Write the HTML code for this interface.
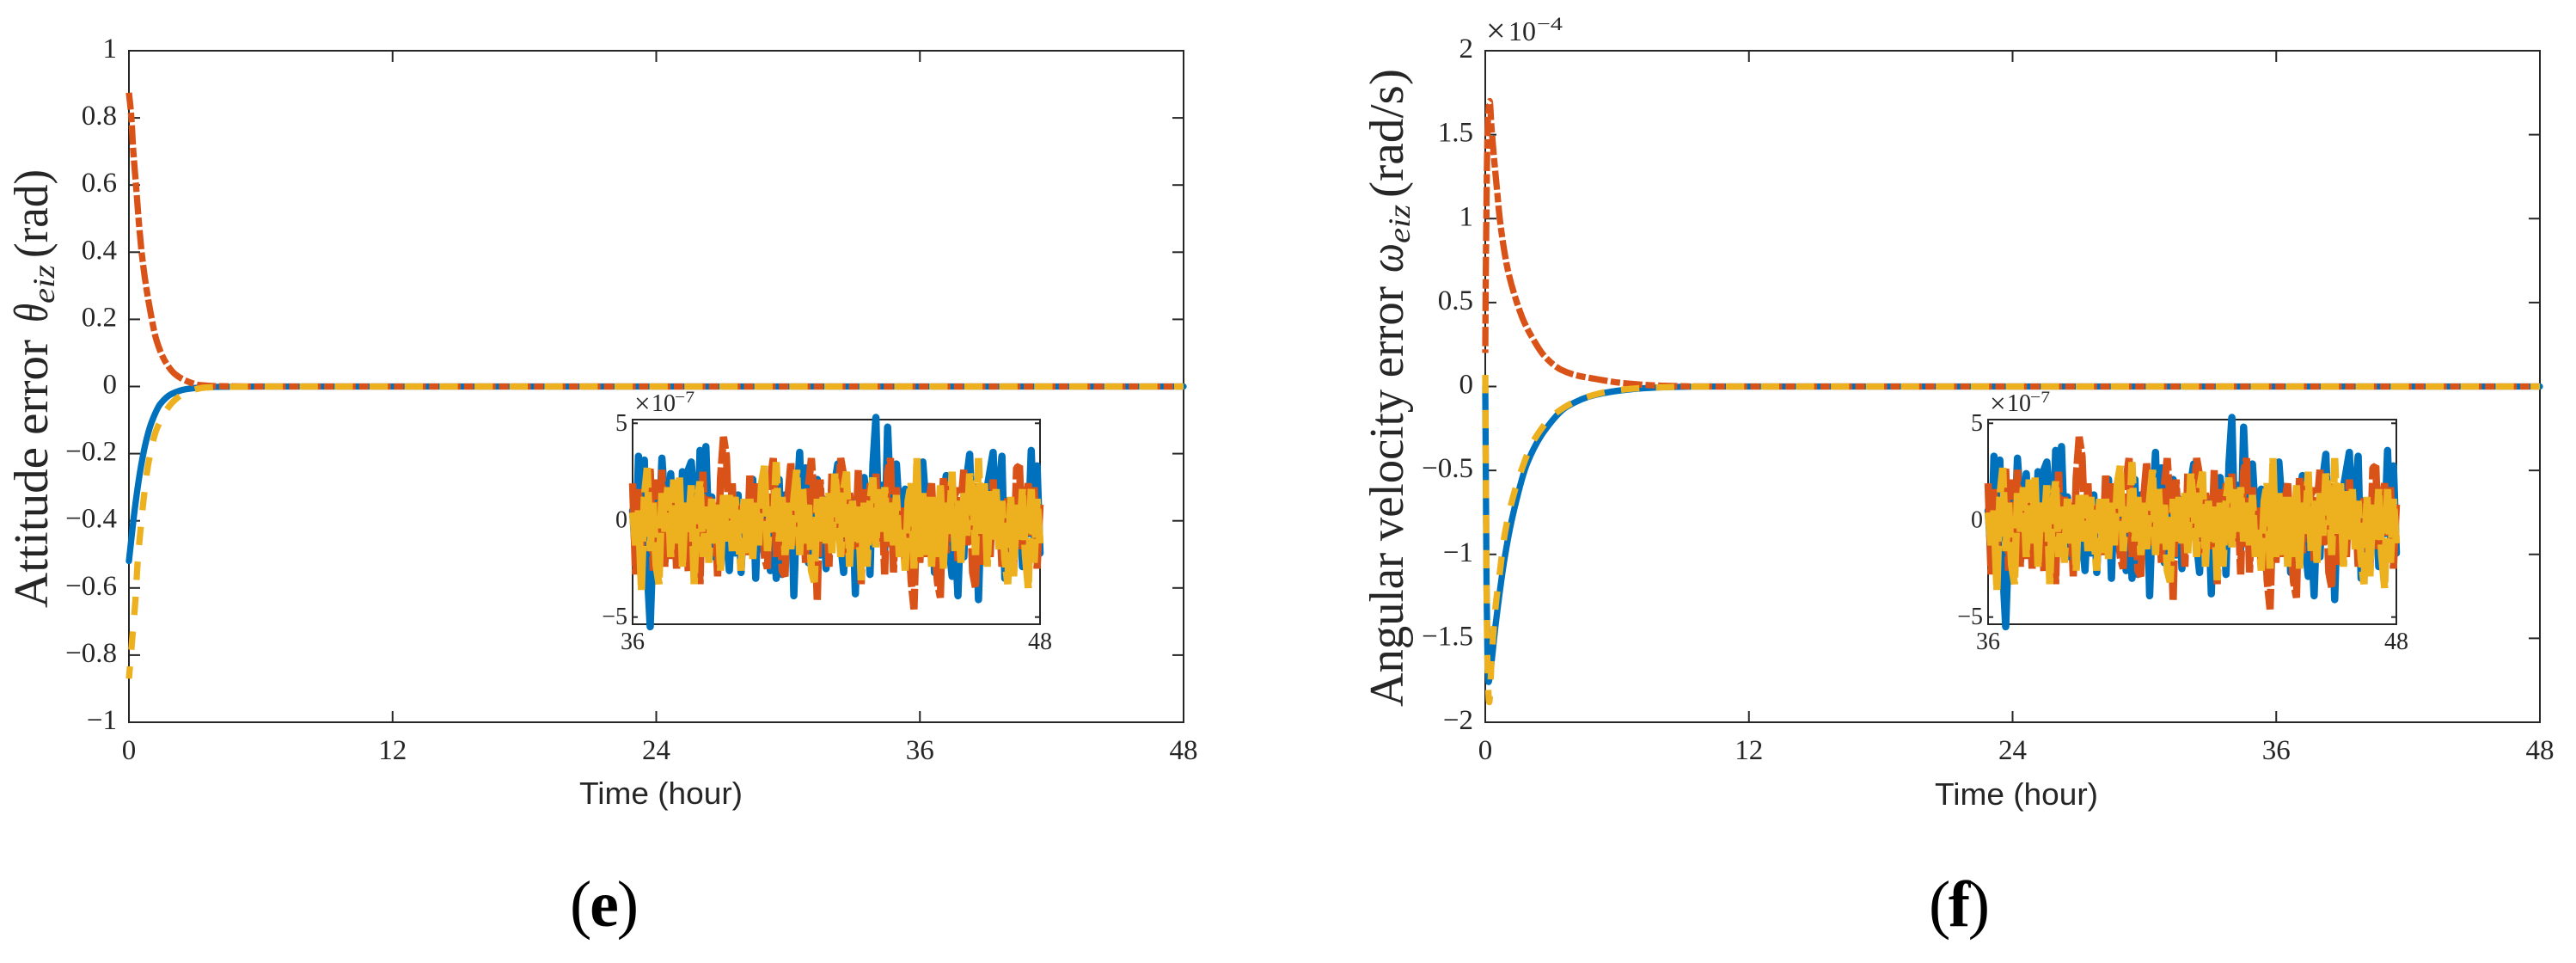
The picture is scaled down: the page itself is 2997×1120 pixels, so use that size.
<!DOCTYPE html>
<html lang="en">
<head>
<meta charset="utf-8">
<title>Attitude and angular velocity error charts</title>
<style>
html,body{margin:0;padding:0;background:#fff;}
svg{display:block;}
text{fill:#262626;font-family:"Liberation Serif",serif;}
.sans{font-family:"Liberation Sans",sans-serif;}
.bold{fill:#000;}
</style>
</head>
<body>
<svg id="figure" xmlns="http://www.w3.org/2000/svg" width="2997" height="1120" viewBox="0 0 2997 1120">
  <rect width="2997" height="1120" fill="#fff"/>
  <g id="panel-e"></g>
  <g id="panel-f"></g>

  <g>
    <text transform="translate(55,707) rotate(-90)" font-size="56" textLength="312" lengthAdjust="spacingAndGlyphs">Attitude error</text>
    <text transform="translate(55,375) rotate(-90)" font-size="56" font-style="italic" textLength="22" lengthAdjust="spacingAndGlyphs">θ</text>
    <text transform="translate(63,353) rotate(-90)" font-size="36" font-style="italic" textLength="45" lengthAdjust="spacingAndGlyphs">eiz</text>
    <text transform="translate(55,300) rotate(-90)" font-size="56" textLength="103" lengthAdjust="spacingAndGlyphs">(rad)</text>
  </g>
  <g>
    <text transform="translate(1632,822) rotate(-90)" font-size="56" textLength="489" lengthAdjust="spacingAndGlyphs">Angular velocity error</text>
    <text transform="translate(1632,317) rotate(-90)" font-size="56" font-style="italic" textLength="34" lengthAdjust="spacingAndGlyphs">ω</text>
    <text transform="translate(1640,283) rotate(-90)" font-size="36" font-style="italic" textLength="45" lengthAdjust="spacingAndGlyphs">eiz</text>
    <text transform="translate(1632,230) rotate(-90)" font-size="56" textLength="150" lengthAdjust="spacingAndGlyphs">(rad/s)</text>
  </g>

  <text class="sans" x="674" y="935" font-size="36.5" textLength="190" lengthAdjust="spacingAndGlyphs">Time (hour)</text>
  <text class="sans" x="2251" y="936" font-size="36.5" textLength="190" lengthAdjust="spacingAndGlyphs">Time (hour)</text>

  <text x="663" y="1077" font-size="76" class="bold" textLength="80" lengthAdjust="spacing">(<tspan font-weight="bold" class="bold">e</tspan>)</text>
  <text x="2244" y="1077" font-size="76" class="bold" textLength="71" lengthAdjust="spacing">(<tspan font-weight="bold" class="bold">f</tspan>)</text>

  <g>
    <text x="1729" y="49" font-size="40">×</text>
    <text x="1755" y="47" font-size="32">10</text>
    <text x="1788" y="35" font-size="22" textLength="30" lengthAdjust="spacingAndGlyphs">−4</text>
  </g>
  <g>
    <text x="738" y="480" font-size="33">×</text>
    <text x="758" y="478" font-size="28">10</text>
    <text x="785" y="468" font-size="19" textLength="23" lengthAdjust="spacingAndGlyphs">−7</text>
  </g>
  <g>
    <text x="2315" y="480" font-size="33">×</text>
    <text x="2335" y="478" font-size="28">10</text>
    <text x="2362" y="468" font-size="19" textLength="23" lengthAdjust="spacingAndGlyphs">−7</text>
  </g>
</svg>

<script>
// ---- Shared tick values ----
const xTicks = [0, 12, 24, 36, 48];
const yTicksE = [-1, -0.8, -0.6, -0.4, -0.2, 0, 0.2, 0.4, 0.6, 0.8, 1];
const yTickLabelsE = ['−1', '−0.8', '−0.6', '−0.4', '−0.2', '0', '0.2', '0.4', '0.6', '0.8', '1'];
const yTicksF = [-2, -1.5, -1, -0.5, 0, 0.5, 1, 1.5, 2];
const yTickLabelsF = ['−2', '−1.5', '−1', '−0.5', '0', '0.5', '1', '1.5', '2'];
const insetXTicks = [36, 48];
const insetYTicks = [-5, 0, 5];
const insetYTickLabels = ['−5', '0', '5'];

// ---- Panel (e): attitude error (rad) ----
const blueTimeE = [0, 0.1, 0.26, 0.52, 0.78, 1.04, 1.43, 1.95, 2.6, 3.26, 4, 6, 48];
const blueValueE = [-0.52, -0.46, -0.368, -0.249, -0.163, -0.105, -0.052, -0.022, -0.008, -0.003, -0.001, 0, 0];
const orangeTimeE = [0, 0.1, 0.2, 0.325, 0.455, 0.59, 0.78, 0.98, 1.24, 1.63, 2.08, 2.6, 3.25, 4, 6, 48];
const orangeValueE = [0.875, 0.81, 0.7, 0.597, 0.487, 0.393, 0.299, 0.222, 0.141, 0.077, 0.038, 0.017, 0.004, 0.001, 0, 0];
const yellowTimeE = [0, 0.16, 0.29, 0.39, 0.52, 0.68, 0.89, 1.28, 2.03, 2.7, 3.5, 4.5, 6, 48];
const yellowValueE = [-0.87, -0.744, -0.641, -0.53, -0.432, -0.33, -0.227, -0.124, -0.044, -0.015, -0.003, -0.001, 0, 0];

// ---- Panel (f): angular velocity error (x 1e-4 rad/s) ----
const blueTimeF = [0, 0.03, 0.06, 0.1, 0.15, 0.25, 0.47, 0.86, 1.25, 1.9, 2.69, 3.72, 5, 6.6, 8, 10, 48];
const blueValueF = [0, -0.6, -1.2, -1.6, -1.76, -1.68, -1.42, -1.04, -0.77, -0.46, -0.265, -0.12, -0.05, -0.017, -0.005, 0, 0];
const orangeTimeF = [0, 0.02, 0.05, 0.08, 0.12, 0.2, 0.28, 0.4, 0.55, 0.66, 0.85, 1.05, 1.44, 1.75, 2.1, 2.7, 3.45, 4.2, 4.8, 6.3, 8, 10, 48];
const orangeValueF = [0.2, 0.6, 1.0, 1.35, 1.58, 1.7, 1.55, 1.36, 1.15, 1.0, 0.82, 0.68, 0.5, 0.39, 0.3, 0.18, 0.1, 0.065, 0.05, 0.02, 0.005, 0, 0];
const yellowTimeF = [0, 0.03, 0.06, 0.1, 0.18, 0.3, 0.47, 0.66, 0.86, 1.18, 1.64, 2.23, 3.2, 4.5, 5.8, 7.3, 10, 48];
const yellowValueF = [0.1, -0.6, -1.2, -1.65, -1.88, -1.6, -1.31, -1.11, -0.9, -0.7, -0.5, -0.316, -0.16, -0.068, -0.026, -0.008, 0, 0];

// ---- Inset steady-state error (x 1e-7), hours 36-48, evenly sampled ----
const insetBlue = [
0.5,-1.8,3.3,1.2,3.1,-2.6,-5.5,-1,1.4,-0.8,
3.2,0.9,-1.5,2.4,-0.6,1.9,-2.2,2.5,0.4,2.6,
3,1.2,-2.6,3.6,1.6,3.8,-0.8,1.2,-1.9,0.6,
-2.4,1,-0.9,-2.6,0.7,-1.7,1.3,-2.7,0.5,-1.2,
0.8,2.1,-3,1.5,-0.7,-1.8,0.9,-2.6,0.6,-3,
2.1,-2.8,1.3,-1,2.5,-3.9,0.7,3.5,-1.4,2.7,
-2.2,1.9,-0.7,2.1,-1.8,1.1,-2.5,0.8,-1.2,1.9,
2.9,-1.2,-2.7,1.4,-0.6,0.9,-3.8,1.6,-1.9,2.2,
0.5,-2.8,2.9,5.3,-0.9,1.8,-1.5,4.8,1,-1.3,
2.9,0.4,-0.9,1.6,-1.8,-2.8,1.3,-0.7,2.5,3,
0.9,-1.6,1.5,-2.7,0.7,-1.2,1.1,2.3,-1.4,-2.9,
-0.8,-3.9,0.6,-1.9,2.2,3.4,-1.1,1.2,-4.1,0.9,
-1.6,1.7,2.6,3.5,-0.6,1.4,3.3,-3,1,-2.6,
0.8,-1.3,1.5,-2.4,1,-0.7,3.6,-0.9,2.8,-1.7];
const insetOrange = [
1.9,-2.8,1.6,-1.4,1.2,-0.6,2.7,-2.6,2.1,-1.2,
2.6,-2.4,1.7,-2,1.3,-2.5,1.5,-1.1,0.7,-2.7,
0.8,-1.6,1.1,-3.3,2.5,-1.8,1.2,-1.1,0.9,-2.9,
2.2,4.3,3.3,-0.7,1.9,-1.3,0.8,-0.5,0.9,-1.8,
2.3,-0.6,1.9,-1.3,0.9,-1.9,-2.5,2.1,3.2,-1.9,
1.2,-2.6,-2.9,1.2,3,-1.3,2.2,-1.6,1.4,-2.2,
1.8,3.2,0.7,-4.2,2.1,-1.1,0.9,-2.4,2.4,-0.8,
1,3.2,2.3,-1.8,1.4,0.4,-1.5,2.6,-3.3,1.6,
-0.7,1.9,-1.2,2.4,-1.1,1.1,-2.8,2.5,3.2,-2.7,
1.7,-1.3,0.7,-2.4,1,-3.1,-4.6,0.6,-2.2,1,
-1.9,0.9,1.9,-1.2,-3.2,-4,2.2,-1.7,2,-0.7,
1.7,-2.1,0.8,2.6,-1.3,1.6,-2.7,-3.5,1.9,-2.3,
0.6,1.4,-1.9,2.1,-0.8,0.9,-2.4,0.4,1.1,-0.9,
-2.4,2.7,2.8,-1.5,1,1.9,-0.8,1.7,-2.5,0.8];
const insetYellow = [
0.4,-1.3,0.5,-3.6,1.2,2.7,-1.6,0.9,-2.3,-3.3,
1.4,-0.6,1.7,-1.9,2.1,-1.2,2.2,-2.4,0.9,-0.6,
1.8,-3.3,0.9,2,-1.9,0.7,-2.2,1.2,-1.2,0.8,
-2.6,1.3,-1.1,1.3,-1.6,1.2,-0.9,-2.6,1.1,-1.7,
1.2,-2,0.9,-1.3,1.9,2.8,-1.6,0.7,-0.6,3,
-1.1,1.2,-1.8,0.9,-1.5,1.1,2.6,-1.8,1.7,-1.2,
0.9,-2.6,-3.2,1.1,-1.1,1.2,-1.2,1.4,-1.7,2.4,
0.8,-1.9,1.6,2.5,-2.4,1,-1.1,0.7,-3.1,0.9,
-2.4,1,2.2,-1.4,1.6,-0.6,1.7,-1.1,0.9,-1.3,
1.3,-1.9,-0.5,-2.6,1,1.9,-2.5,3.2,-1.9,1.4,
-1.8,1.2,-2.4,1.2,-1.9,1.8,-2.5,0.9,-0.7,2.5,
-1.7,1,-2.2,1.4,-0.8,2.4,1.6,-1.8,3.2,-0.7,
1.9,-2.4,1.5,-1,1.6,-1.5,1,-2,-3.3,1.2,
-2.9,0.8,-1,1.6,-1.8,-3.5,1.7,-2.2,1.1,-1.2];

const NS = 'http://www.w3.org/2000/svg';
const INK = '#262626';
const BLUE = '#0072BD';
const ORANGE = '#D95319';
const YELLOW = '#EDB120';

function mk(parent, tag, attrs) {
  const node = document.createElementNS(NS, tag);
  for (const k in attrs) node.setAttribute(k, attrs[k]);
  parent.appendChild(node);
  return node;
}
function linScale(d0, d1, r0, r1) {
  return v => r0 + (v - d0) * (r1 - r0) / (d1 - d0);
}
// Path through the mapped points: monotone cubic for smooth decays, straight segments for noise.
function pathFrom(px, py, smooth) {
  const n = px.length;
  let d = 'M' + px[0].toFixed(2) + ' ' + py[0].toFixed(2);
  if (!smooth) {
    for (let i = 1; i < n; i++) d += 'L' + px[i].toFixed(2) + ' ' + py[i].toFixed(2);
    return d;
  }
  const s = [];
  for (let i = 0; i < n - 1; i++) s.push((py[i + 1] - py[i]) / (px[i + 1] - px[i]));
  const m = [s[0]];
  for (let i = 1; i < n - 1; i++) m.push(s[i - 1] * s[i] <= 0 ? 0 : 2 * s[i - 1] * s[i] / (s[i - 1] + s[i]));
  m.push(s[n - 2]);
  for (let i = 0; i < n - 1; i++) {
    const h = (px[i + 1] - px[i]) / 3;
    d += 'C' + (px[i] + h).toFixed(2) + ' ' + (py[i] + m[i] * h).toFixed(2) + ' ' +
      (px[i + 1] - h).toFixed(2) + ' ' + (py[i + 1] - m[i + 1] * h).toFixed(2) + ' ' +
      px[i + 1].toFixed(2) + ' ' + py[i + 1].toFixed(2);
  }
  return d;
}
function drawSeries(parent, xs, ys, sx, sy, color, dash, tailPhase, name, width, smooth) {
  const el = mk(parent, 'path', {
    d: pathFrom(xs.map(sx), ys.map(sy), smooth), fill: 'none', stroke: color, 'stroke-width': width,
    'stroke-linejoin': dash ? 'bevel' : 'round', 'stroke-linecap': dash ? 'butt' : 'round'
  });
  
  
  if (dash) {
    el.setAttribute('stroke-dasharray', dash);
    if (tailPhase !== null) el.setAttribute('stroke-dashoffset', (tailPhase - el.getTotalLength()).toFixed(2));
  }
  return el;
}
function drawAxes(parent, box, sx, sy, xt, yt, xl, yl, tickLen, fs, xLabelBase, yLabelRight, yShift, prefix) {
  const frame = mk(parent, 'rect', {
    x: box.l, y: box.t, width: box.r - box.l, height: box.b - box.t,
    fill: 'none', stroke: INK, 'stroke-width': 2
  });
  
  
  xt.forEach((v, i) => {
    const x = sx(v);
    if (v !== xt[0] && v !== xt[xt.length - 1]) {
      const a = mk(parent, 'line', { x1: x, x2: x, y1: box.b, y2: box.b - tickLen, stroke: INK, 'stroke-width': 2 });
      
      
      const b = mk(parent, 'line', { x1: x, x2: x, y1: box.t, y2: box.t + tickLen, stroke: INK, 'stroke-width': 2 });
      
      
    }
    const lab = mk(parent, 'text', { x: x, y: xLabelBase, 'font-size': fs, 'text-anchor': 'middle' });
    lab.textContent = xl[i];
    
    
  });
  yt.forEach((v, i) => {
    const y = sy(v);
    const a = mk(parent, 'line', { x1: box.l, x2: box.l + tickLen, y1: y, y2: y, stroke: INK, 'stroke-width': 2 });
    
    
    const b = mk(parent, 'line', { x1: box.r, x2: box.r - tickLen, y1: y, y2: y, stroke: INK, 'stroke-width': 2 });
    
    
    const lab = mk(parent, 'text', { x: yLabelRight, y: y + yShift, 'font-size': fs, 'text-anchor': 'end' });
    lab.textContent = yl[i];
    
    
  });
}
function drawInset(parent, left, right, prefix) {
  const box = { l: left, r: right, t: 488, b: 726 };
  const sx = linScale(36, 48, left, right);
  const sy = linScale(-5.37, 5.19, 726, 488);
  const ix = arr => arr.map((_, i) => 36 + 12 * i / (arr.length - 1));
  drawAxes(parent, box, sx, sy, insetXTicks, insetYTicks, insetXTicks, insetYTickLabels, 6, 28, 755, left - 6, 8.5, prefix);
  drawSeries(parent, ix(insetBlue), insetBlue, sx, sy, BLUE, null, null, prefix + '-series-blue', 8.5, false);
  drawSeries(parent, ix(insetOrange), insetOrange, sx, sy, ORANGE, '46 4', null, prefix + '-series-orange', 8.5, false);
  drawSeries(parent, ix(insetYellow), insetYellow, sx, sy, YELLOW, '52 5', null, prefix + '-series-yellow', 8.5, false);
}
function drawPanel(parent, box, yMin, yMax, yt, yl, blueT, blueV, orangeT, orangeV, yellowT, yellowV, insetL, insetR, prefix) {
  const sx = linScale(0, 48, box.l, box.r);
  const sy = linScale(yMin, yMax, box.b, box.t);
  drawAxes(parent, box, sx, sy, xTicks, yt, xTicks, yl, 13, 33, 883, box.l - 14, 8, prefix);
  drawSeries(parent, blueT, blueV, sx, sy, BLUE, null, null, prefix + '-series-blue', 7.3, true);
  drawSeries(parent, orangeT, orangeV, sx, sy, ORANGE, '22.3 3.7 11 3.7', 8.5, prefix + '-series-orange', 7.3, true);
  drawSeries(parent, yellowT, yellowV, sx, sy, YELLOW, '21.3 19.4', 11, prefix + '-series-yellow', 7.3, true);
  drawInset(parent, insetL, insetR, prefix + '-inset');
}

drawPanel(document.getElementById('panel-e'), { l: 150, r: 1377, t: 59, b: 840 }, -1, 1, yTicksE, yTickLabelsE,
  blueTimeE, blueValueE, orangeTimeE, orangeValueE, yellowTimeE, yellowValueE, 736, 1210, 'panel-e');
drawPanel(document.getElementById('panel-f'), { l: 1728, r: 2955, t: 59, b: 840 }, -2, 2, yTicksF, yTickLabelsF,
  blueTimeF, blueValueF, orangeTimeF, orangeValueF, yellowTimeF, yellowValueF, 2313, 2788, 'panel-f');
</script>
</body>
</html>
